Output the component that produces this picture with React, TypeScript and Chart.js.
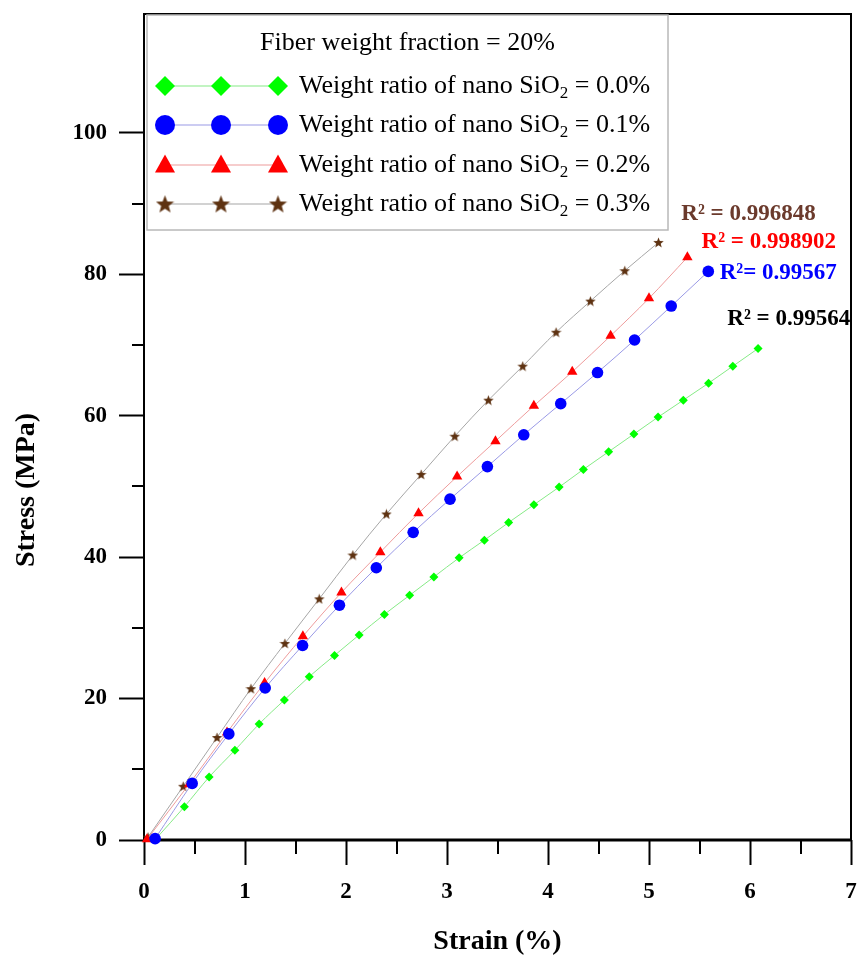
import React, { useEffect, useRef } from 'react';
import { Chart, registerables } from 'chart.js';

Chart.register(...registerables);

// ---------- data ----------
const strain00 = [0.12, 0.4, 0.645, 0.9, 1.14, 1.39, 1.636, 1.886, 2.13, 2.38, 2.63, 2.87, 3.12, 3.37, 3.61, 3.86, 4.11, 4.35, 4.6, 4.85, 5.09, 5.34, 5.59, 5.83, 6.08];
const stress00 = [0.2, 4.7, 8.9, 12.7, 16.4, 19.8, 23.1, 26.1, 29.0, 31.9, 34.6, 37.2, 39.9, 42.4, 44.9, 47.4, 49.9, 52.4, 54.9, 57.4, 59.8, 62.2, 64.6, 67.0, 69.5];

const strain01 = [0.11, 0.477, 0.84, 1.2, 1.57, 1.935, 2.3, 2.665, 3.03, 3.4, 3.76, 4.126, 4.49, 4.857, 5.22, 5.587];
const stress01 = [0.2, 8.0, 15.0, 21.5, 27.5, 33.2, 38.5, 43.5, 48.2, 52.8, 57.3, 61.7, 66.1, 70.7, 75.5, 80.4];

const strain02 = [0.03, 0.447, 0.822, 1.194, 1.573, 1.955, 2.34, 2.718, 3.1, 3.48, 3.86, 4.24, 4.62, 5.0, 5.38];
const stress02 = [0.1, 7.9, 15.2, 22.2, 28.8, 35.0, 40.7, 46.2, 51.4, 56.4, 61.4, 66.2, 71.3, 76.6, 82.4];

const strain03 = [0.04, 0.388, 0.723, 1.059, 1.395, 1.735, 2.068, 2.4, 2.744, 3.077, 3.41, 3.75, 4.08, 4.42, 4.76, 5.094];
const stress03 = [0.4, 7.6, 14.5, 21.4, 27.8, 34.1, 40.3, 46.1, 51.7, 57.1, 62.2, 67.0, 71.8, 76.2, 80.5, 84.5];

const ratioLabels = ['0.0%', '0.1%', '0.2%', '0.3%'];
const legendTitle = 'Fiber weight fraction = 20%';
const r2Texts = ['R\u00B2 = 0.99564', 'R\u00B2= 0.99567', 'R\u00B2 = 0.998902', 'R\u00B2 = 0.996848'];
const r2AnchorX = [5.775, 5.7, 5.52, 5.32];
const r2AnchorY = [73.6, 80.2, 84.6, 88.5];

const xMajorTicks = [0, 1, 2, 3, 4, 5, 6, 7];
const xMinorTicks = [0.5, 1.5, 2.5, 3.5, 4.5, 5.5, 6.5];
const yMajorTicks = [0, 20, 40, 60, 80, 100];
const yMinorTicks = [10, 30, 50, 70, 90];

// ---------- styles ----------
const SERIF = '"Liberation Serif", "Times New Roman", serif';
const markerColors = ['#00ff00', '#0000ff', '#ff0000', '#5e3211'];
const lineColors = ['#86ea86', '#9a9ae6', '#ee9c9c', '#a6a6a6'];
const r2Colors = ['#000000', '#0000ff', '#ff0000', '#6b3a2c'];

function makeStar(size: number, color: string) {
  const c = document.createElement('canvas');
  c.width = size;
  c.height = size;
  const g = c.getContext('2d')!;
  const cx = size / 2, cy = size / 2 + size * 0.04;
  const R = size / 2, r = R * 0.42;
  g.beginPath();
  for (let i = 0; i < 10; i++) {
    const ang = -Math.PI / 2 + (i * Math.PI) / 5;
    const rad = i % 2 === 0 ? R : r;
    const px = cx + rad * Math.cos(ang);
    const py = cy + rad * Math.sin(ang);
    if (i === 0) g.moveTo(px, py); else g.lineTo(px, py);
  }
  g.closePath();
  g.fillStyle = color;
  g.fill();
  return c;
}

function drawMarker(ctx: CanvasRenderingContext2D, kind: number, x: number, y: number, s: number, star: HTMLCanvasElement) {
  ctx.fillStyle = markerColors[kind];
  ctx.beginPath();
  if (kind === 0) {
    ctx.moveTo(x, y - s); ctx.lineTo(x + s, y); ctx.lineTo(x, y + s); ctx.lineTo(x - s, y); ctx.closePath(); ctx.fill();
  } else if (kind === 1) {
    ctx.arc(x, y, s, 0, Math.PI * 2); ctx.fill();
  } else if (kind === 2) {
    ctx.moveTo(x, y - s * 1.05); ctx.lineTo(x + s, y + s * 0.75); ctx.lineTo(x - s, y + s * 0.75); ctx.closePath(); ctx.fill();
  } else {
    ctx.drawImage(star, x - star.width / 2, y - star.height / 2);
  }
}

export default function App() {
  const ref = useRef<HTMLCanvasElement | null>(null);

  useEffect(() => {
    if (!ref.current) return;
    const plotStar = makeStar(11, markerColors[3]);
    const legendStar = makeStar(19, markerColors[3]);

    const framePlugin = {
      id: 'frameAndMinor',
      beforeDatasetsDraw(chart: any) {
        const { ctx, chartArea: ca, scales } = chart;
        ctx.save();
        ctx.strokeStyle = '#000';
        ctx.lineWidth = 2;
        ctx.strokeRect(ca.left, ca.top, ca.right - ca.left, ca.bottom - ca.top);
        ctx.lineWidth = 3;
        ctx.beginPath();
        ctx.moveTo(ca.left - 1, ca.bottom);
        ctx.lineTo(ca.right + 1, ca.bottom);
        ctx.stroke();
        ctx.lineWidth = 2;
        ctx.beginPath();
        for (const v of yMinorTicks) {
          const py = Math.round(scales.y.getPixelForValue(v));
          ctx.moveTo(ca.left - 12, py);
          ctx.lineTo(ca.left, py);
        }
        for (const v of xMinorTicks) {
          const px = Math.round(scales.x.getPixelForValue(v));
          ctx.moveTo(px, ca.bottom);
          ctx.lineTo(px, ca.bottom + 14);
        }
        ctx.stroke();
        ctx.restore();
      },
      afterDatasetsDraw(chart: any) {
        const { ctx, chartArea: ca, scales } = chart;
        ctx.save();
        // legend box
        const bx = ca.left + 3, by = ca.top + 1, bw = 521, bh = 215;
        ctx.fillStyle = '#ffffff';
        ctx.fillRect(bx, by, bw, bh);
        ctx.strokeStyle = '#b8b8b8';
        ctx.lineWidth = 1.5;
        ctx.strokeRect(bx, by, bw, bh);
        ctx.fillStyle = '#000';
        ctx.font = `26px ${SERIF}`;
        ctx.textAlign = 'center';
        ctx.textBaseline = 'middle';
        ctx.fillText(legendTitle, bx + bw / 2, by + 28);
        const rowY = [by + 71, by + 110, by + 150, by + 189];
        const mx = [bx + 18, bx + 74, bx + 131];
        const sizes = [10, 10, 10, 0];
        for (let i = 0; i < 4; i++) {
          const y = rowY[i];
          ctx.strokeStyle = lineColors[i];
          ctx.lineWidth = 1.2;
          ctx.beginPath();
          ctx.moveTo(mx[0], y);
          ctx.lineTo(mx[2], y);
          ctx.stroke();
          for (const x of mx) drawMarker(ctx, i, x, y, sizes[i], legendStar);
          ctx.fillStyle = '#000';
          ctx.textAlign = 'left';
          ctx.textBaseline = 'middle';
          let tx = bx + 152;
          ctx.font = `26px ${SERIF}`;
          const a = 'Weight ratio of nano SiO';
          ctx.fillText(a, tx, y);
          tx += ctx.measureText(a).width;
          ctx.font = `17px ${SERIF}`;
          ctx.fillText('2', tx, y + 8);
          tx += ctx.measureText('2').width;
          ctx.font = `26px ${SERIF}`;
          ctx.fillText(' = ' + ratioLabels[i], tx, y);
        }
        // R^2 annotations
        ctx.font = `bold 23px ${SERIF}`;
        ctx.textAlign = 'left';
        ctx.textBaseline = 'middle';
        for (let i = 0; i < 4; i++) {
          ctx.fillStyle = r2Colors[i];
          ctx.fillText(r2Texts[i], scales.x.getPixelForValue(r2AnchorX[i]), scales.y.getPixelForValue(r2AnchorY[i]));
        }
        ctx.restore();
      },
      afterDraw(chart: any) {
        const { ctx, chartArea: ca } = chart;
        ctx.save();
        ctx.fillStyle = '#000';
        ctx.font = `bold 28px ${SERIF}`;
        ctx.textAlign = 'center';
        ctx.textBaseline = 'middle';
        ctx.fillText('Strain (%)', (ca.left + ca.right) / 2, ca.bottom + 102);
        ctx.translate(27, ca.bottom - 350);
        ctx.rotate(-Math.PI / 2);
        ctx.fillText('Stress (MPa)', 0, 0);
        ctx.restore();
      },
    };

    const mk = (xs: number[], ys: number[]) => xs.map((x, i) => ({ x, y: ys[i] }));

    const datasets: any[] = [
      {
        label: 'Weight ratio of nano SiO2 = ' + ratioLabels[0],
        data: mk(strain00, stress00),
        pointStyle: 'rectRot', pointRadius: 4.5,
        pointBackgroundColor: markerColors[0], pointBorderWidth: 0,
        borderColor: lineColors[0], borderWidth: 1, order: 4,
      },
      {
        label: 'Weight ratio of nano SiO2 = ' + ratioLabels[1],
        data: mk(strain01, stress01),
        pointStyle: 'circle', pointRadius: 5.8,
        pointBackgroundColor: markerColors[1], pointBorderWidth: 0,
        borderColor: lineColors[1], borderWidth: 1, order: 1,
      },
      {
        label: 'Weight ratio of nano SiO2 = ' + ratioLabels[2],
        data: mk(strain02, stress02),
        pointStyle: 'triangle', pointRadius: 6,
        pointBackgroundColor: markerColors[2], pointBorderWidth: 0,
        borderColor: lineColors[2], borderWidth: 1, order: 2,
      },
      {
        label: 'Weight ratio of nano SiO2 = ' + ratioLabels[3],
        data: mk(strain03, stress03),
        pointStyle: plotStar, pointRadius: 5.5,
        pointBackgroundColor: markerColors[3], pointBorderWidth: 0,
        borderColor: lineColors[3], borderWidth: 1, order: 3,
      },
    ].map((d) => ({ ...d, showLine: true, cubicInterpolationMode: 'monotone', clip: false, pointHoverRadius: d.pointRadius }));

    const tickFont = { family: SERIF, size: 23, weight: 'bold' as const };

    const chart = new Chart(ref.current, {
      type: 'scatter',
      data: { datasets },
      options: {
        responsive: false,
        maintainAspectRatio: false,
        animation: false,
        devicePixelRatio: 1,
        layout: { padding: { top: 14, right: 3, left: 0, bottom: 0 } },
        plugins: { legend: { display: false }, tooltip: { enabled: false }, title: { display: false } },
        scales: {
          x: {
            type: 'linear',
            min: 0,
            max: 7,
            afterBuildTicks: (s: any) => { s.ticks = xMajorTicks.map((v) => ({ value: v })); },
            afterFit: (s: any) => { s.height = 116; s.paddingLeft = 0; s.paddingRight = 0; },
            ticks: { font: tickFont, color: '#000', padding: 13, maxRotation: 0, autoSkip: false, callback: (v: any) => String(v) },
            grid: { display: true, drawOnChartArea: false, drawTicks: true, tickLength: 25, tickWidth: 2, tickColor: '#000' },
            border: { display: false },
          },
          y: {
            type: 'linear',
            min: 0,
            max: 116.8,
            afterBuildTicks: (s: any) => { s.ticks = yMajorTicks.map((v) => ({ value: v })); },
            afterFit: (s: any) => { s.width = 144; s.paddingTop = 0; s.paddingBottom = 0; },
            ticks: { font: tickFont, color: '#000', padding: 12, autoSkip: false, callback: (v: any) => String(v) },
            grid: { display: true, drawOnChartArea: false, drawTicks: true, tickLength: 25, tickWidth: 2, tickColor: '#000' },
            border: { display: false },
          },
        },
      },
      plugins: [framePlugin],
    });
    return () => chart.destroy();
  }, []);

  return (
    <div style={{ position: 'absolute', left: 0, top: 0, width: 857, height: 956, background: '#fff' }}>
      <canvas ref={ref} width={857} height={956} style={{ width: 857, height: 956, display: 'block' }} />
    </div>
  );
}
